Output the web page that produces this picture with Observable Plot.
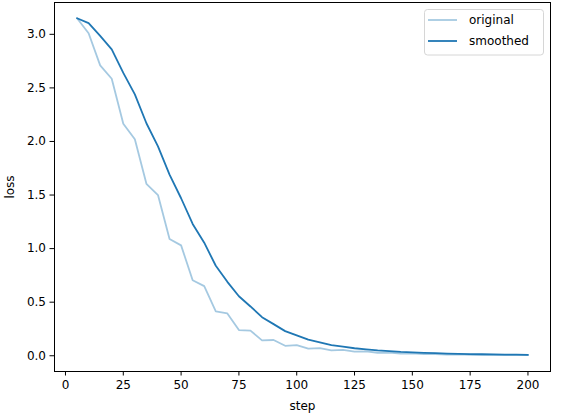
<!DOCTYPE html>
<html>
<head>
<meta charset="utf-8">
<script src="https://cdn.jsdelivr.net/npm/d3@7"></script>
<script src="https://cdn.jsdelivr.net/npm/@observablehq/plot@0.6"></script>
<style>
  html, body { margin: 0; padding: 0; background: #fff; }
  #chart svg { display: block; font-family: "DejaVu Sans", sans-serif; }
</style>
</head>
<body>
<div id="chart"></div>
<script>
const steps = [5,10,15,20,25,30,35,40,45,50,55,60,65,70,75,80,85,90,95,100,105,110,115,120,125,130,135,140,145,150,155,160,165,170,175,180,185,190,195,200];
const original = [3.15,3.01,2.71,2.585,2.165,2.02,1.605,1.50,1.09,1.03,0.705,0.65,0.415,0.395,0.24,0.235,0.143,0.147,0.093,0.1,0.066,0.072,0.05,0.055,0.038,0.041,0.028,0.03,0.021,0.022,0.015,0.016,0.011,0.012,0.008,0.009,0.006,0.007,0.005,0.005];
const smoothed = [3.15,3.105,2.985,2.86,2.64,2.44,2.17,1.955,1.69,1.47,1.23,1.055,0.84,0.69,0.555,0.46,0.36,0.295,0.23,0.19,0.15,0.125,0.1,0.085,0.07,0.06,0.05,0.043,0.036,0.032,0.027,0.024,0.02,0.018,0.015,0.014,0.012,0.011,0.01,0.009];
const xTicks = [0,25,50,75,100,125,150,175,200];
const yTicks = [0.0,0.5,1.0,1.5,2.0,2.5,3.0];
const seriesNames = ["original","smoothed"];

const origData = steps.map((s,i) => ({step: s, loss: original[i]}));
const smoothData = steps.map((s,i) => ({step: s, loss: smoothed[i]}));

const blue = "#1f77b4";
const W = 562, H = 419;

const plot = Plot.plot({
  width: W,
  height: H,
  marginLeft: 54,
  marginRight: 12,
  marginTop: 2,
  marginBottom: 48,
  style: {fontFamily: "DejaVu Sans, sans-serif", fontSize: "12px", color: "#000", background: "#fff"},
  x: {domain: [-4.75, 209.75]},
  y: {domain: [-0.147, 3.297]},
  marks: [
    Plot.line(origData, {x: "step", y: "loss", stroke: blue, strokeOpacity: 0.4, strokeWidth: 1.8}),
    Plot.line(smoothData, {x: "step", y: "loss", stroke: blue, strokeWidth: 1.8}),
    Plot.frame({stroke: "#000", strokeWidth: 1}),
    Plot.axisX({ticks: xTicks, tickFormat: d => String(d), tickSize: 4.5, tickPadding: 4, stroke: "#000",
      label: "step", labelAnchor: "center", labelArrow: "none", labelOffset: 38, fontSize: 12}),
    Plot.axisY({ticks: yTicks, tickFormat: d => d.toFixed(1), tickSize: 4.5, tickPadding: 4, stroke: "#000",
      label: "loss", labelAnchor: "center", labelArrow: "none", labelOffset: 49, fontSize: 12})
  ]
});

document.getElementById("chart").appendChild(plot);

// Legend (drawn in the plot's svg)
const svg = d3.select(plot);
const lg = svg.append("g").attr("font-family", "DejaVu Sans, sans-serif").attr("font-size", 12)
  .attr("text-anchor", "start");
lg.append("rect").attr("x", 424.5).attr("y", 9.5).attr("width", 119).attr("height", 45.5)
  .attr("rx", 3).attr("fill", "#fff").attr("fill-opacity", 0.8).attr("stroke", "#d6d6d6");
const opac = [0.4, 1];
seriesNames.forEach((name, i) => {
  const cy = 20 + i * 21;
  lg.append("line").attr("x1", 428).attr("x2", 457).attr("y1", cy).attr("y2", cy)
    .attr("stroke", blue).attr("stroke-opacity", opac[i]).attr("stroke-width", 1.8);
  lg.append("text").attr("x", 469).attr("y", cy).attr("dy", "0.35em").attr("fill", "#000")
    .attr("text-anchor", "start").text(name);
});
</script>
</body>
</html>
